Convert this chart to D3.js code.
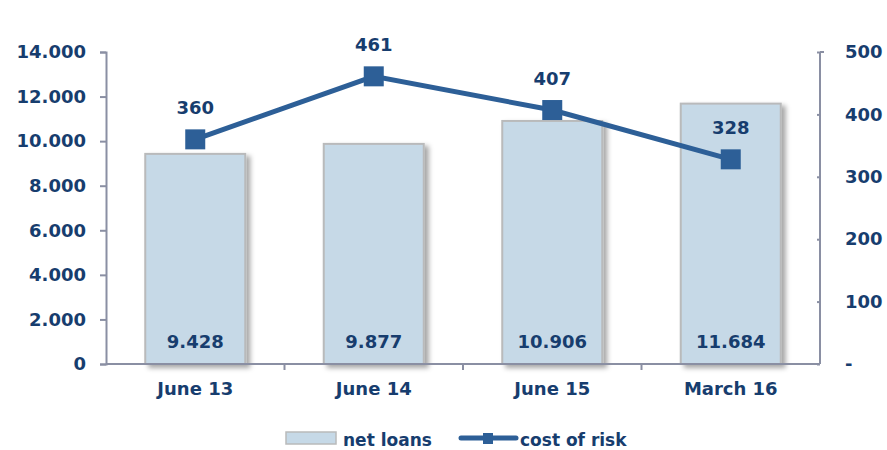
<!DOCTYPE html>
<html><head><meta charset="utf-8">
<script src="https://cdn.jsdelivr.net/npm/d3@7"></script>
<style>body{margin:0;background:#fff}svg{display:block}text{font-family:"DejaVu Sans",Verdana,sans-serif;font-weight:bold;fill:#173d6e}</style>
</head><body>
<svg id="c" width="887" height="450"></svg>
<script>
const categories = ["June 13","June 14","June 15","March 16"];
const netLoans = [9428, 9877, 10906, 11684];
const netLoansLabels = ["9.428","9.877","10.906","11.684"];
const costOfRisk = [360, 461, 407, 328];
const leftTicks = [0,2000,4000,6000,8000,10000,12000,14000];
const leftTickLabels = ["0","2.000","4.000","6.000","8.000","10.000","12.000","14.000"];
const rightTicks = [0,100,200,300,400,500];
const rightTickLabels = ["-","100","200","300","400","500"];

const svg = d3.select("#c");
const m = {l:106, r:820, t:52, b:364};
const x = d3.scaleBand().domain(categories).range([m.l, m.r]);
const yL = d3.scaleLinear().domain([0,14000]).range([m.b, m.t]);
const yR = d3.scaleLinear().domain([0,500]).range([m.b, m.t]);
const axisColor = "#8a8fa3";
const navy = "#173d6e";
const lineColor = "#2d5f97";

const defs = svg.append("defs");
const f = defs.append("filter").attr("id","sh").attr("x","-20%").attr("y","-20%").attr("width","150%").attr("height","150%");
f.append("feDropShadow").attr("dx",4).attr("dy",3).attr("stdDeviation",2.5).attr("flood-color","#000").attr("flood-opacity",0.35);

// bars
const bw = 100;
svg.append("g").selectAll("rect").data(netLoans).join("rect")
  .attr("x",(d,i)=>x(categories[i])+x.bandwidth()/2-bw/2)
  .attr("y",d=>yL(d))
  .attr("width",bw)
  .attr("height",d=>yL(0)-yL(d))
  .attr("fill","#c6d9e7")
  .attr("stroke","#b9babb")
  .attr("stroke-width",2)
  .attr("filter","url(#sh)");

// axes
const gL = svg.append("g").attr("transform",`translate(${m.l},0)`)
  .call(d3.axisLeft(yL).tickValues(leftTicks).tickFormat((d,i)=>leftTickLabels[i]).tickSize(6).tickPadding(14));
const gR = svg.append("g").attr("transform",`translate(${m.r},0)`)
  .call(d3.axisRight(yR).tickValues(rightTicks).tickFormat((d,i)=>rightTickLabels[i]).tickSize(-3).tickPadding(25));
const gB = svg.append("g").attr("transform",`translate(0,${m.b})`)
  .call(d3.axisBottom(x).tickSize(0).tickPadding(18));
[gL,gR,gB].forEach(g=>{
  g.select(".domain").attr("stroke",axisColor).attr("stroke-width",2);
  g.selectAll(".tick line").attr("stroke",axisColor).attr("stroke-width",2);
  g.selectAll("text").attr("font-size",18).attr("fill",navy).attr("font-family",null);
});
gR.select(".domain").attr("d",`M0,${m.t}H4M0,${m.t}V${m.b}`);
gR.selectAll(".tick text").attr("text-anchor","start");
gB.select(".domain").attr("d",`M${m.l},0H${m.r}`);
// category separator ticks
svg.append("g").selectAll("line").data(categories.slice(1)).join("line")
  .attr("x1",d=>x(d)).attr("x2",d=>x(d)).attr("y1",m.b).attr("y2",m.b+6)
  .attr("stroke",axisColor).attr("stroke-width",2);

// bar labels
svg.append("g").selectAll("text").data(netLoansLabels).join("text")
  .attr("x",(d,i)=>x(categories[i])+x.bandwidth()/2)
  .attr("y",m.b-16)
  .attr("text-anchor","middle").attr("font-size",18).text(d=>d);

// line
const cx = (i)=>x(categories[i])+x.bandwidth()/2;
svg.append("path").datum(costOfRisk)
  .attr("d",d3.line().x((d,i)=>cx(i)).y(d=>yR(d)))
  .attr("fill","none").attr("stroke",lineColor).attr("stroke-width",5);
svg.append("g").selectAll("rect").data(costOfRisk).join("rect")
  .attr("x",(d,i)=>cx(i)-10).attr("y",d=>yR(d)-10)
  .attr("width",20).attr("height",20).attr("fill",lineColor);
svg.append("g").selectAll("text").data(costOfRisk).join("text")
  .attr("x",(d,i)=>cx(i)).attr("y",d=>yR(d)-25)
  .attr("text-anchor","middle").attr("font-size",18).text(d=>d);

// legend
const lg = svg.append("g");
lg.append("rect").attr("x",286).attr("y",432).attr("width",50).attr("height",12)
  .attr("fill","#c6d9e7").attr("stroke","#b9babb").attr("stroke-width",1.5);
lg.append("text").attr("x",343).attr("y",446).attr("font-size",17).text("net loans");
lg.append("line").attr("x1",461).attr("x2",516).attr("y1",438).attr("y2",438)
  .attr("stroke",lineColor).attr("stroke-width",5).attr("stroke-linecap","round");
lg.append("rect").attr("x",483).attr("y",433).attr("width",10).attr("height",11).attr("fill",lineColor);
lg.append("text").attr("x",520).attr("y",446).attr("font-size",17).text("cost of risk");
</script>
</body></html>
